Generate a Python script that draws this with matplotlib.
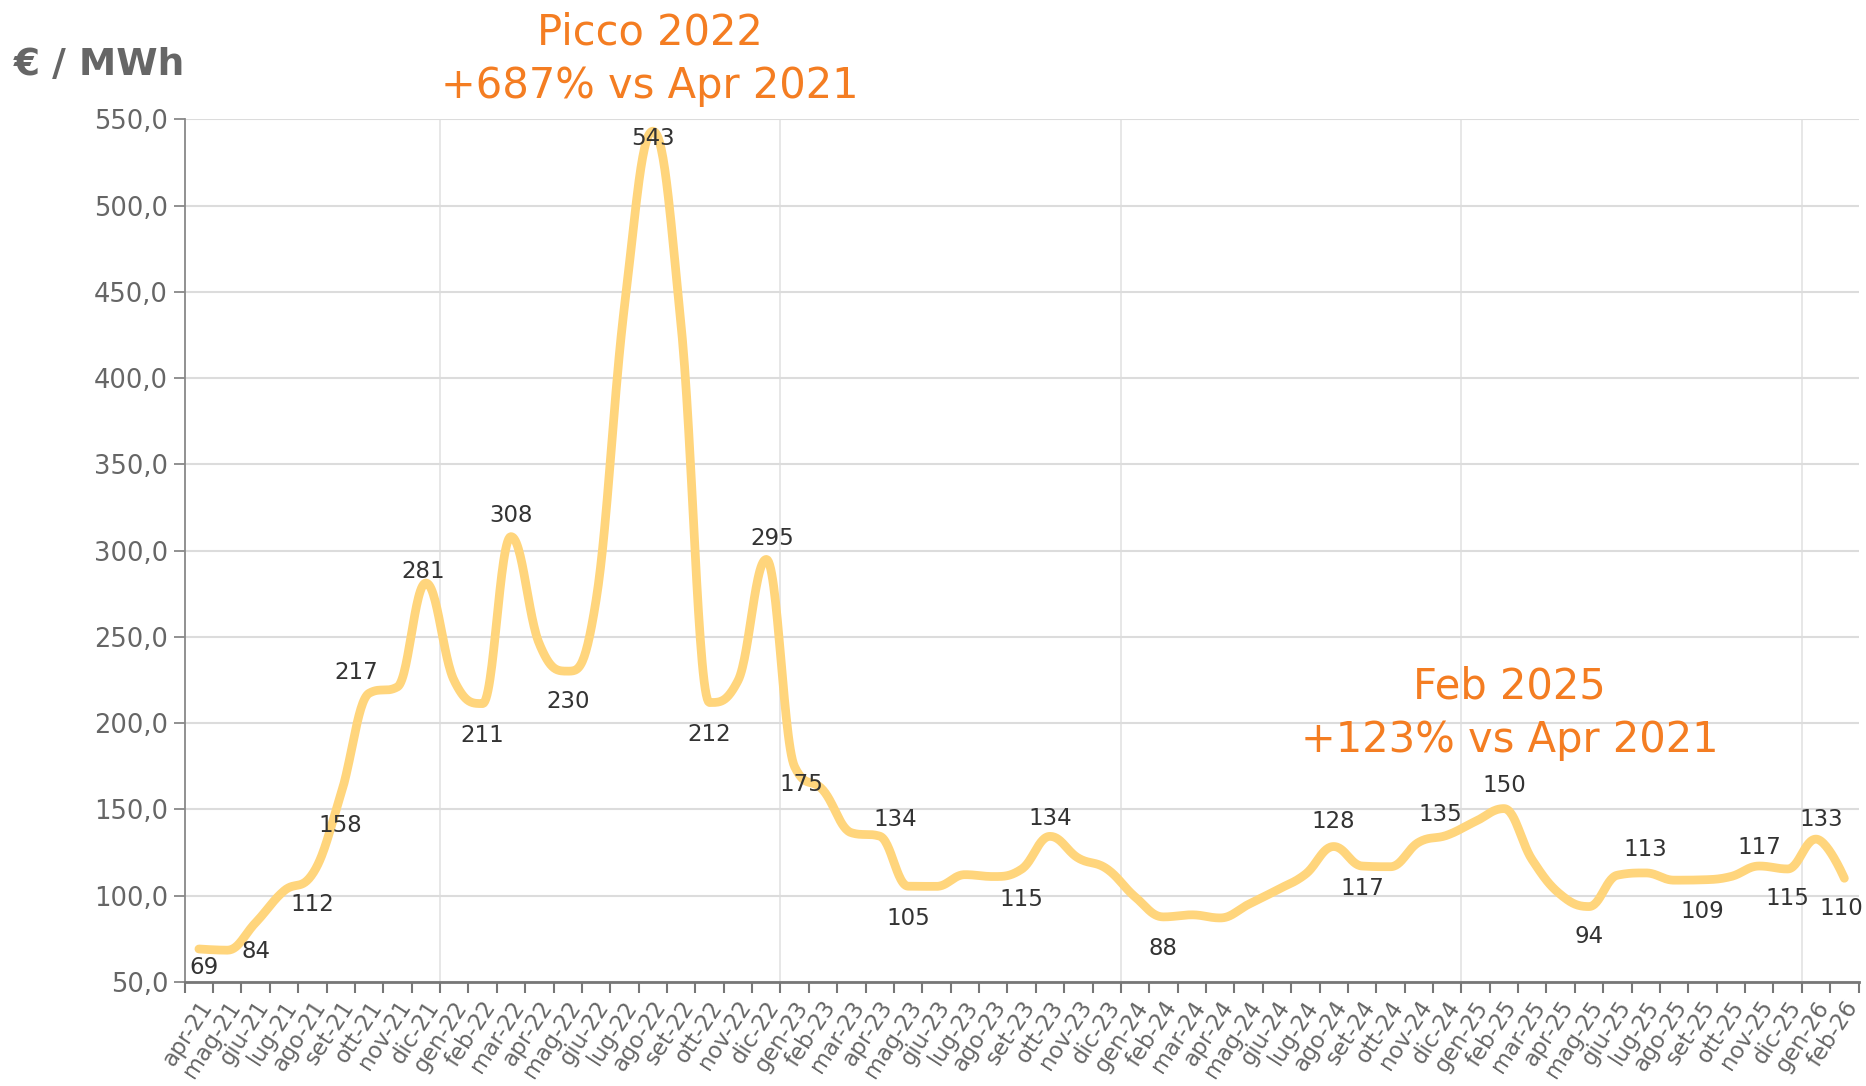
import numpy as np
import matplotlib
matplotlib.use("Agg")
import matplotlib.pyplot as plt
import matplotlib.transforms as mtransforms
from matplotlib.ticker import FuncFormatter

# Mesi (apr-21 .. feb-26)
mesi = ["apr-21", "mag-21", "giu-21", "lug-21", "ago-21", "set-21", "ott-21", "nov-21", "dic-21",
        "gen-22", "feb-22", "mar-22", "apr-22", "mag-22", "giu-22", "lug-22", "ago-22", "set-22",
        "ott-22", "nov-22", "dic-22",
        "gen-23", "feb-23", "mar-23", "apr-23", "mag-23", "giu-23", "lug-23", "ago-23", "set-23",
        "ott-23", "nov-23", "dic-23",
        "gen-24", "feb-24", "mar-24", "apr-24", "mag-24", "giu-24", "lug-24", "ago-24", "set-24",
        "ott-24", "nov-24", "dic-24",
        "gen-25", "feb-25", "mar-25", "apr-25", "mag-25", "giu-25", "lug-25", "ago-25", "set-25",
        "ott-25", "nov-25", "dic-25",
        "gen-26", "feb-26"]

# Prezzo medio mensile (EUR/MWh)
prezzi = [69.0, 68.3, 84.3, 102.7, 112.4, 158.4, 217.3, 221.0, 281.2,
          224.5, 211.3, 308.1, 245.9, 230.1, 271.3, 441.6, 543.2, 429.9, 211.9, 224.5, 294.9,
          174.6, 161.1, 136.4, 134.4, 105.4, 105.3, 112.1, 111.0, 115.3, 134.3, 121.7, 115.5,
          99.2, 87.6, 88.8, 87.0, 94.9, 103.2, 112.3, 128.4, 117.1, 116.7, 130.9, 135.0,
          143.0, 150.4, 120.6, 100.5, 93.6, 111.8, 113.1, 108.9, 109.1, 111.0, 117.1, 115.4,
          132.7, 110.0]

# punti con etichetta e spostamento etichetta (punti tipografici)
etichette = [0, 2, 4, 5, 6, 8, 10, 11, 13, 16, 18, 20, 21, 24, 25, 29, 30, 34,
             40, 41, 44, 46, 49, 51, 53, 55, 56, 57, 58]
spost = [(4, -13), (0, -21), (0, -22), (0, -22), (-9, 15), (-2, 8), (0, -23), (0, 15), (0, -22),
         (0, -5), (0, -23), (4, 15), (5, -13), (11, 12), (0, -23), (0, -22), (0, 13), (0, -23),
         (0, 18), (0, -16), (-5, 15), (0, 16.5), (0, -21.5), (0, 17), (0, -23), (0, 13),
         (0, -21.5), (4, 14), (-2, -21.5)]

ARANCIO = "#F47D22"
LINEA = "#FFD57C"
GRIGIO = "#666666"


def spline(xs, ys, smoothing=1.5, n=30):
    # curva tipo Highcharts: bezier cubiche tra i punti
    denom = smoothing + 1
    N = len(xs)
    rc = [None] * N
    lc = [None] * N
    for i in range(N):
        x, y = xs[i], ys[i]
        if 0 < i < N - 1:
            lx, ly = xs[i - 1], ys[i - 1]
            nx, ny = xs[i + 1], ys[i + 1]
            lcx = (smoothing * x + lx) / denom
            lcy = (smoothing * y + ly) / denom
            rcx = (smoothing * x + nx) / denom
            rcy = (smoothing * y + ny) / denom
            corr = (rcy - lcy) * (rcx - x) / (rcx - lcx) + y - rcy
            lcy += corr
            rcy += corr
            if lcy > ly and lcy > y:
                lcy = max(ly, y); rcy = 2 * y - lcy
            elif lcy < ly and lcy < y:
                lcy = min(ly, y); rcy = 2 * y - lcy
            if rcy > ny and rcy > y:
                rcy = max(ny, y); lcy = 2 * y - rcy
            elif rcy < ny and rcy < y:
                rcy = min(ny, y); lcy = 2 * y - rcy
            lc[i] = (lcx, lcy)
            rc[i] = (rcx, rcy)
        else:
            lc[i] = (x, y)
            rc[i] = (x, y)
    t = np.linspace(0, 1, n)[:, None]
    out = []
    for i in range(1, N):
        p0 = np.array([xs[i - 1], ys[i - 1]])
        p1 = np.array(rc[i - 1])
        p2 = np.array(lc[i])
        p3 = np.array([xs[i], ys[i]])
        seg = ((1 - t) ** 3) * p0 + 3 * ((1 - t) ** 2) * t * p1 + 3 * (1 - t) * t ** 2 * p2 + t ** 3 * p3
        out.append(seg if i == 1 else seg[1:])
    pts = np.vstack(out)
    return pts[:, 0], pts[:, 1]


plt.rcParams['font.family'] = ['DejaVu Sans']

fig = plt.figure(figsize=(18.66, 10.86), dpi=100)
ax = fig.add_axes([0.099, 0.096, 0.897, 0.794])

x = np.arange(len(mesi))
sx, sy = spline(list(x), prezzi)
ax.plot(sx, sy, color=LINEA, lw=6.3, solid_capstyle='round', solid_joinstyle='round', zorder=3)

for i, (dx, dy) in zip(etichette, spost):
    ax.annotate(str(int(round(prezzi[i]))), (x[i], prezzi[i]), xytext=(dx, dy),
                textcoords='offset points', ha='center', va='center',
                fontsize=16.5, color="#333333", zorder=4)

ax.set_xlim(-0.5, len(mesi) - 0.5)
ax.set_ylim(50, 550)
ax.set_yticks(np.arange(50, 551, 50))
ax.yaxis.set_major_formatter(FuncFormatter(lambda v, p: f"{v:.1f}".replace(".", ",")))
ax.grid(axis='y', color="#dcdcdc", lw=1.5, zorder=0)
for b in range(9, len(mesi), 12):
    ax.axvline(b - 0.5, color="#e0e0e0", lw=1.1, zorder=0)

ax.set_xticks(x)
ax.set_xticklabels(mesi, rotation=57, ha='right', va='center', rotation_mode='anchor',
                   fontsize=16.3, color=GRIGIO)
ax.tick_params(axis='x', which='major', length=0, pad=15)
# etichette leggermente spostate a destra
sposta = mtransforms.ScaledTranslation(6 / 72, 0, fig.dpi_scale_trans)
for lab in ax.get_xticklabels():
    lab.set_transform(lab.get_transform() + sposta)
ax.set_xticks(np.arange(-0.5, len(mesi), 1), minor=True)
ax.tick_params(axis='x', which='minor', length=8, width=1.5, color="#777777")
ax.tick_params(axis='y', length=8, width=1.3, color="#888888", labelsize=18.5, labelcolor=GRIGIO, pad=4)

for s in ['top', 'right']:
    ax.spines[s].set_visible(False)
ax.spines['left'].set_color("#888888")
ax.spines['left'].set_linewidth(1.3)
ax.spines['bottom'].set_color("#777777")
ax.spines['bottom'].set_linewidth(2)

fig.text(0.0075, 0.940, "€ / MWh", fontsize=27, fontweight='bold', color=GRIGIO, va='center', ha='left')

ax.text(15.9, 600.5, "Picco 2022", ha='center', va='center', fontsize=30, color=ARANCIO, clip_on=False)
ax.text(15.9, 569.5, "+687% vs Apr 2021", ha='center', va='center', fontsize=30, color=ARANCIO, clip_on=False)
ax.text(46.2, 221, "Feb 2025", ha='center', va='center', fontsize=30, color=ARANCIO)
ax.text(46.2, 190, "+123% vs Apr 2021", ha='center', va='center', fontsize=30, color=ARANCIO)

fig.savefig("out.png", dpi=100, facecolor='white')
